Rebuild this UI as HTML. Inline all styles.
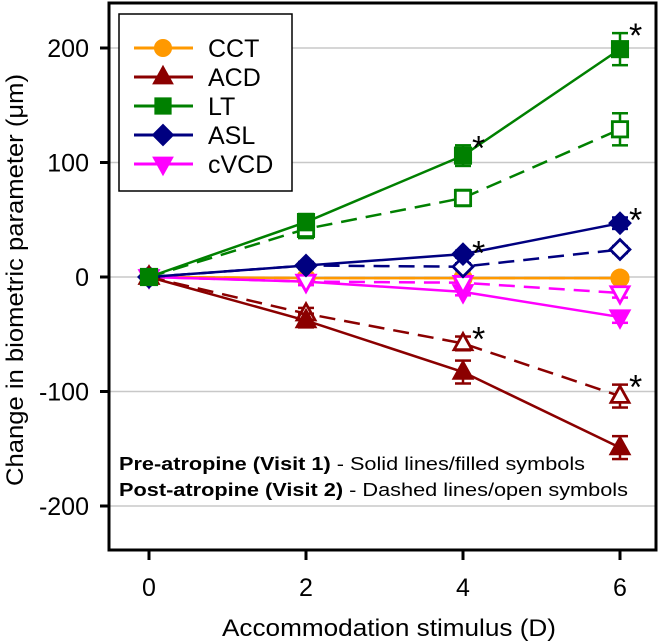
<!DOCTYPE html>
<html><head><meta charset="utf-8"><style>
body{margin:0;background:#fff}
svg{display:block;font-family:"Liberation Sans",Arial,sans-serif}
</style></head><body>
<svg id="chart" width="661" height="642" viewBox="0 0 661 642" xmlns="http://www.w3.org/2000/svg">
<g id="grid"></g>
<g id="series"></g>
<rect x="109" y="3" width="547" height="547" fill="none" stroke="#000" stroke-width="3"/>
<g id="axes"></g>
<text transform="translate(23,280) rotate(-90)" text-anchor="middle" font-size="24" textLength="412" lengthAdjust="spacingAndGlyphs">Change in biometric parameter (μm)</text>
<text x="389" y="636" text-anchor="middle" font-size="24" textLength="334" lengthAdjust="spacingAndGlyphs">Accommodation stimulus (D)</text>
<g>
<rect x="119" y="14" width="173" height="177" fill="#fff" stroke="#000" stroke-width="1.5"/>
<g id="legend-items"></g>
</g>
<g font-size="18">
<text x="119" y="470" textLength="466" lengthAdjust="spacingAndGlyphs"><tspan font-weight="bold">Pre-atropine (Visit 1)</tspan> - Solid lines/filled symbols</text>
<text x="119" y="496" textLength="509" lengthAdjust="spacingAndGlyphs"><tspan font-weight="bold">Post-atropine (Visit 2)</tspan> - Dashed lines/open symbols</text>
</g>
</svg>
<script>
const xCategories=[0,2,4,6];
const yTicks=[200,100,0,-100,-200];
const seriesNames=["CCT","ACD","LT","ASL","cVCD"];
const seriesColors=["#FF9900","#8B0000","#008000","#000080","#FF00FF"];
const seriesMarkers=["circle","triUp","square","diamond","triDown"];
const cctPre=[0,-1,-1,-1];
const cctPost=[0,-1,-1,-1];
const acdPre=[0,-38,-83,-149];
const acdPost=[0,-32,-58,-104];
const ltPre=[0,48,106,199];
const ltPost=[0,42,69,129];
const aslPre=[0,10,20,47];
const aslPost=[0,10,9,24];
const cvcdPre=[0,-4,-13,-35];
const cvcdPost=[0,-4,-5,-14];
const acdPreErr=[0,6,10,10];
const acdPostErr=[0,5,6,10];
const ltPreErr=[0,7,9,14];
const ltPostErr=[0,8,7,14];
const aslPreErr=[0,3,3,5];
const aslPostErr=[0,3,3,3];
const cvcdPreErr=[0,3,3,5];
const cvcdPostErr=[0,3,3,4];
const cctErr=[0,2,2,3];
const starsSeries=[["lt",2],["lt",3],["asl",2],["asl",3],["acdPost",2],["acdPost",3]];

const NS="http://www.w3.org/2000/svg";
const xs=x=>149+(x/2)*157;
const ys=v=>277-v*1.145;
function mk(tag,attrs,parent){const e=document.createElementNS(NS,tag);for(const k in attrs)e.setAttribute(k,attrs[k]);parent.appendChild(e);return e;}
const grid=document.getElementById('grid'),axes=document.getElementById('axes'),ser=document.getElementById('series');
yTicks.forEach(t=>{
 const l=mk('line',{x1:109,x2:656,y1:ys(t),y2:ys(t),stroke:'#c8c8c8','stroke-width':1.5},grid);
 
 
 const k=mk('line',{x1:100,x2:109,y1:ys(t),y2:ys(t),stroke:'#000','stroke-width':3},axes);
 
 
 const tx=mk('text',{x:89,y:ys(t)+9,'text-anchor':'end','font-size':25},axes);tx.textContent=t;
 
 
});
xCategories.forEach(c=>{
 const k=mk('line',{x1:xs(c),x2:xs(c),y1:550,y2:560,stroke:'#000','stroke-width':3},axes);
 
 
 const tx=mk('text',{x:xs(c),y:596,'text-anchor':'middle','font-size':25},axes);tx.textContent=c;
 
 
});
function marker(type,x,y,col,filled,parent,s){
 s=s||9;const f=filled?col:'#fff',sw=2.8;let e;
 if(type==='circle')e=mk('circle',{cx:x,cy:y,r:s*0.9,fill:f,stroke:col,'stroke-width':sw},parent);
 else if(type==='square')e=mk('rect',{x:x-s*0.85,y:y-s*0.85,width:s*1.7,height:s*1.7,fill:f,stroke:col,'stroke-width':sw},parent);
 else if(type==='diamond')e=mk('polygon',{points:`${x},${y-s*1.1} ${x+s*1.1},${y} ${x},${y+s*1.1} ${x-s*1.1},${y}`,fill:f,stroke:col,'stroke-width':sw},parent);
 else if(type==='triUp')e=mk('polygon',{points:`${x},${y-s*1.1} ${x+s},${y+s*0.7} ${x-s},${y+s*0.7}`,fill:f,stroke:col,'stroke-width':sw},parent);
 else e=mk('polygon',{points:`${x},${y+s*1.1} ${x+s},${y-s*0.7} ${x-s},${y-s*0.7}`,fill:f,stroke:col,'stroke-width':sw},parent);
 if(!filled&&type==='circle')mk('circle',{cx:x,cy:y,r:1.2,fill:col},parent);
 return e;
}
function drawSeries(name,vals,errs,col,mtype,dashed){
 const g=mk('g',{},ser);
 
 
 const pts=vals.map((v,i)=>xs(xCategories[i])+','+ys(v)).join(' ');
 const pl=mk('polyline',{points:pts,fill:'none',stroke:col,'stroke-width':2.5,'stroke-dasharray':dashed?'16,9':'none'},g);
 
 
 vals.forEach((v,i)=>{
  const x=xs(xCategories[i]),e=errs[i];
  if(e>0){
   mk('line',{x1:x,x2:x,y1:ys(v+e),y2:ys(v-e),stroke:col,'stroke-width':2.5},g);
   mk('line',{x1:x-8,x2:x+8,y1:ys(v+e),y2:ys(v+e),stroke:col,'stroke-width':2.5},g);
   mk('line',{x1:x-8,x2:x+8,y1:ys(v-e),y2:ys(v-e),stroke:col,'stroke-width':2.5},g);
  }
  const m=marker(mtype,x,ys(v),col,!dashed,g);
  
  
 });
}
drawSeries('cct',cctPost,cctErr,seriesColors[0],'circle',true);
drawSeries('cct',cctPre,cctErr,seriesColors[0],'circle',false);
drawSeries('cvcd',cvcdPre,cvcdPreErr,seriesColors[4],'triDown',false);
drawSeries('cvcd',cvcdPost,cvcdPostErr,seriesColors[4],'triDown',true);
drawSeries('asl',aslPost,aslPostErr,seriesColors[3],'diamond',true);
drawSeries('asl',aslPre,aslPreErr,seriesColors[3],'diamond',false);
drawSeries('acd',acdPost,acdPostErr,seriesColors[1],'triUp',true);
drawSeries('acd',acdPre,acdPreErr,seriesColors[1],'triUp',false);
drawSeries('lt',ltPost,ltPostErr,seriesColors[2],'square',true);
drawSeries('lt',ltPre,ltPreErr,seriesColors[2],'square',false);
const starSrc={lt:[ltPre,ltPreErr],asl:[aslPre,aslPreErr],acdPost:[acdPost,acdPostErr]};
starsSeries.forEach(([k,i])=>{
 const [v,e]=starSrc[k];
 const t=mk('text',{x:xs(xCategories[i])+9,y:ys(v[i]+e[i])+14,'font-size':34},ser);
 t.textContent='*';
 
 
});
const li=document.getElementById('legend-items');
seriesNames.forEach((n,i)=>{
 const y=48+i*29;
 const g=mk('g',{},li);
 
 
 mk('line',{x1:134,x2:193,y1:y,y2:y,stroke:seriesColors[i],'stroke-width':3},g);
 marker(seriesMarkers[i],163,y,seriesColors[i],true,g,8.5);
 const t=mk('text',{x:208,y:y+9,'font-size':25},g);t.textContent=n;
});
</script>
</body></html>
